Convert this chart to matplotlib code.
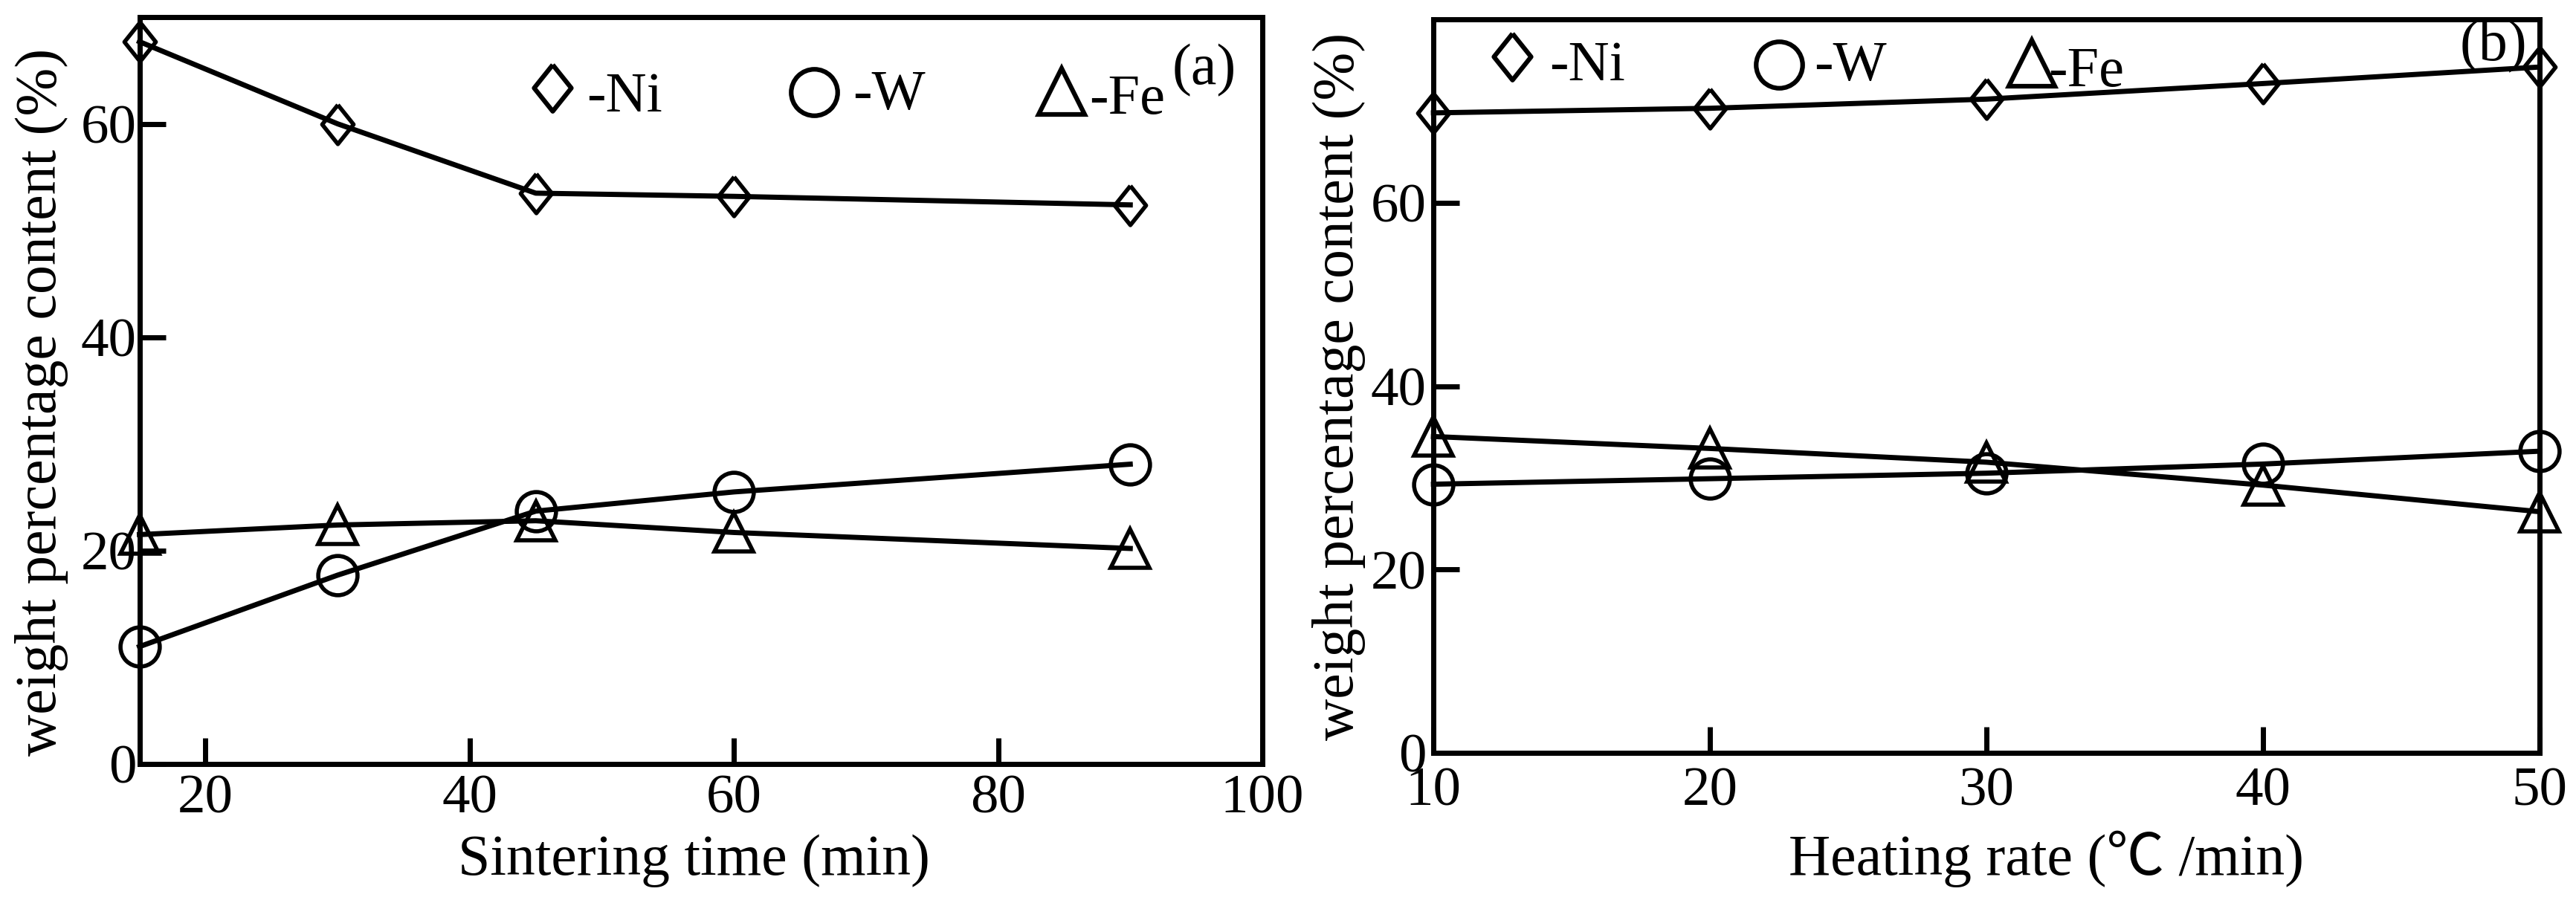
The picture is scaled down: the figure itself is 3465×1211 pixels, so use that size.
import matplotlib
matplotlib.use("Agg")
import matplotlib.pyplot as plt
import numpy as np

plt.rcParams['font.family'] = ['Liberation Serif', 'Noto Sans CJK SC']
plt.rcParams['axes.unicode_minus'] = False

# (a) sintering time
sinter_time = [15, 30, 45, 60, 90]
ni_a = [67.7, 60.0, 53.5, 53.2, 52.4]
w_a = [11.0, 17.7, 23.7, 25.5, 28.1]
fe_a = [21.5, 22.4, 22.8, 21.7, 20.2]

# (b) heating rate
heat_rate = [10, 20, 30, 40, 50]
ni_b = [69.8, 70.3, 71.3, 73.0, 74.8]
w_b = [29.3, 29.9, 30.5, 31.5, 32.9]
fe_b = [34.5, 33.2, 31.7, 29.2, 26.3]

labels = ['-Ni', '-W', '-Fe']

# diamond a bit narrower than tall
diamond = [(0, 1), (0.8, 0), (0, -1), (-0.8, 0), (0, 1)]
markers = [diamond, 'o', '^']

LW = 5
MS = 38
MEW = 4
FS_TICK = 54
FS_LAB = 56

fig = plt.figure(figsize=(34.66, 12.11), dpi=100)
ax1 = fig.add_axes([0.0541, 0.1511, 0.4358, 0.8299])
ax2 = fig.add_axes([0.5563, 0.1635, 0.4293, 0.8150])


def style_axes(ax, xpad, ypad):
    for s in ax.spines.values():
        s.set_linewidth(5)
    ax.tick_params(direction='in', length=25, width=5, labelsize=FS_TICK,
                   top=False, right=False)
    ax.tick_params(axis='y', pad=ypad)
    ax.tick_params(axis='x', pad=xpad)


def draw_series(ax, x, ys):
    for y, m in zip(ys, markers):
        ax.plot(x, y, color='k', linewidth=LW, marker=m, markersize=MS,
                markerfacecolor='none', markeredgecolor='k',
                markeredgewidth=MEW, clip_on=False, zorder=3)


def draw_key(ax, mpos, tpos):
    for (mx, my), (tx, ty), m, lab in zip(mpos, tpos, markers, labels):
        ax.plot([mx], [my], transform=ax.transAxes, marker=m, markersize=45,
                markerfacecolor='none', markeredgecolor='k',
                markeredgewidth=4.5, linestyle='none', clip_on=False)
        ax.text(tx, ty, lab, transform=ax.transAxes, fontsize=55,
                ha='left', va='baseline')


# panel (a)
draw_series(ax1, sinter_time, [ni_a, w_a, fe_a])
ax1.set_xlim(15, 100)
ax1.set_ylim(0, 70)
ax1.set_xticks([20, 40, 60, 80, 100])
ax1.set_yticks([0, 20, 40, 60])
style_axes(ax1, 10, 3)
ax1.set_xlabel('Sintering time (min)', fontsize=FS_LAB, va='baseline')
ax1.set_ylabel('weight percentage content (%)', fontsize=FS_LAB)
ax1.xaxis.set_label_coords(0.494, -0.148)
ax1.yaxis.set_label_coords(-0.063, 0.485)
draw_key(ax1, [(0.368, 0.905), (0.601, 0.900), (0.821, 0.901)],
         [(0.398, 0.874), (0.635, 0.877), (0.846, 0.871)])
ax1.text(0.977, 0.910, '(a)', transform=ax1.transAxes, fontsize=FS_LAB,
         ha='right', va='baseline')

# panel (b)
draw_series(ax2, heat_rate, [ni_b, w_b, fe_b])
ax2.set_xlim(10, 50)
ax2.set_ylim(0, 80)
ax2.set_xticks([10, 20, 30, 40, 50])
ax2.set_yticks([0, 20, 40, 60])
style_axes(ax2, 14, 7)
ax2.set_xlabel('Heating rate (℃ /min)', fontsize=FS_LAB, va='baseline')
ax2.set_ylabel('weight percentage content (%)', fontsize=FS_LAB)
ax2.xaxis.set_label_coords(0.554, -0.166)
ax2.yaxis.set_label_coords(-0.061, 0.5)
draw_key(ax2, [(0.071, 0.949), (0.3125, 0.938), (0.541, 0.940)],
         [(0.105, 0.917), (0.344, 0.917), (0.556, 0.909)])
ax2.text(0.989, 0.944, '(b)', transform=ax2.transAxes, fontsize=FS_LAB,
         ha='right', va='baseline')

fig.savefig('out.png', dpi=100)
